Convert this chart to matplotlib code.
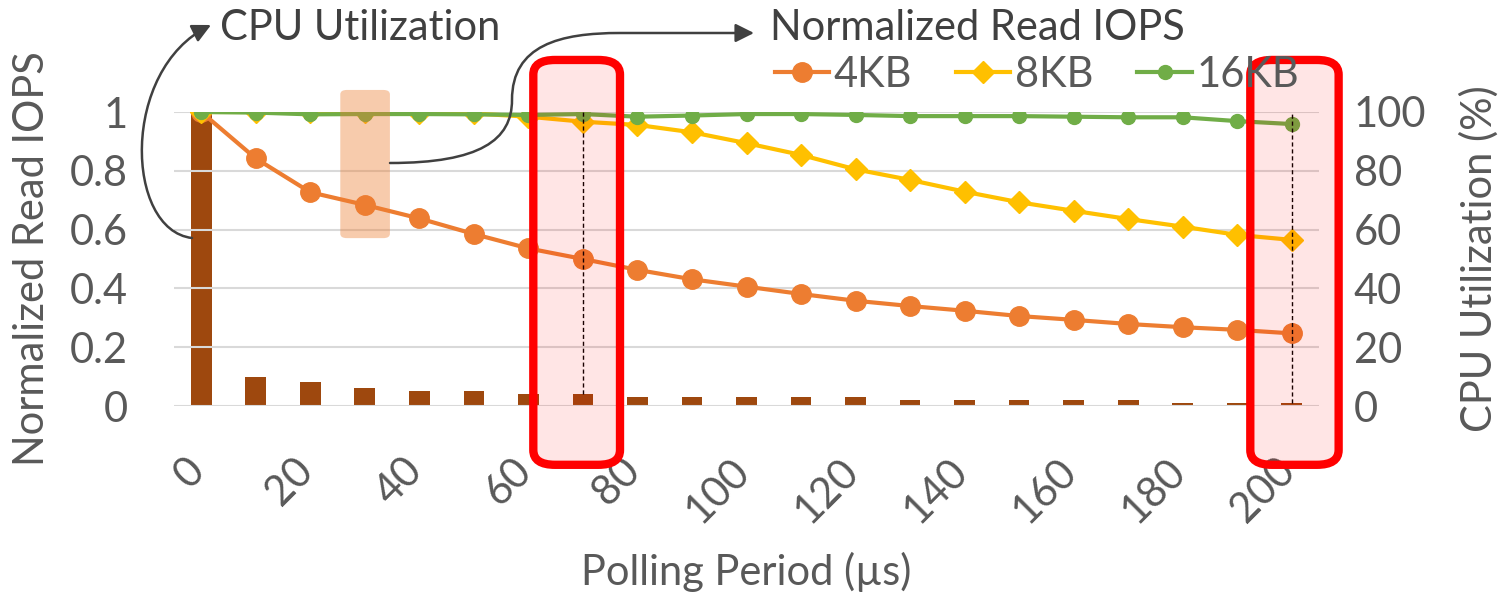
import numpy as np
import matplotlib.pyplot as plt
from matplotlib.patches import FancyBboxPatch, FancyArrowPatch
from matplotlib.path import Path
from matplotlib.transforms import blended_transform_factory, ScaledTranslation

plt.rcParams['font.family'] = ['Lato', 'DejaVu Sans']

period = [0, 10, 20, 30, 40, 50, 60, 70, 80, 90, 100,
          110, 120, 130, 140, 150, 160, 170, 180, 190, 200]
iops_4kb = [1.0, 0.842, 0.727, 0.684, 0.638, 0.585, 0.536, 0.500, 0.463, 0.431, 0.406,
            0.381, 0.358, 0.340, 0.324, 0.306, 0.293, 0.279, 0.268, 0.259, 0.247]
iops_8kb = [1.0, 1.0, 1.0, 1.0, 0.998, 0.995, 0.984, 0.967, 0.956, 0.931, 0.894,
            0.854, 0.805, 0.769, 0.729, 0.693, 0.664, 0.636, 0.610, 0.582, 0.565]
iops_16kb = [1.0, 0.998, 0.992, 0.993, 0.993, 0.992, 0.990, 0.993, 0.984, 0.988, 0.993,
             0.993, 0.990, 0.986, 0.986, 0.986, 0.984, 0.982, 0.982, 0.969, 0.959]
cpu_util = [100, 10, 8, 6, 5, 5, 4, 4, 3, 3, 3,
            3, 3, 2, 2, 2, 2, 2, 1, 1, 1]
xticks = [0, 20, 40, 60, 80, 100, 120, 140, 160, 180, 200]

TEXT = '#595959'
W, H = 1509, 602

fig = plt.figure(figsize=(W / 100, H / 100), dpi=100)
ax = fig.add_axes([174 / W, 1 - 406 / H, (1319 - 174) / W, (406 - 112) / H])
ax2 = ax.twinx()
ax.set_zorder(ax2.get_zorder() + 1)
ax.patch.set_visible(False)

# CPU bars on the secondary axis, behind the IOPS lines
ax2.bar(period, cpu_util, width=3.8, color='#9e480e', zorder=2)
ax2.set_ylim(0, 100)
ax2.set_yticks(range(0, 101, 20))

ax.plot(period, iops_4kb, color='#ed7d31', lw=3, marker='o', ms=14, label='4KB', zorder=3)
ax.plot(period, iops_8kb, color='#ffc000', lw=3, marker='D', ms=11, label='8KB', zorder=4)
ax.plot(period, iops_16kb, color='#70ad47', lw=3, marker='o', ms=10, label='16KB', zorder=5)

ax.set_xlim(-5, 205)
ax.set_ylim(0, 1)
ax.set_yticks([0, 0.2, 0.4, 0.6, 0.8, 1])
ax.set_yticklabels(['0', '0.2', '0.4', '0.6', '0.8', '1'])
ax.set_xticks(xticks)
ax.grid(axis='y', color='#d9d9d9', lw=1.5, zorder=0)
ax.set_axisbelow(True)

for a in (ax, ax2):
    for s in a.spines.values():
        s.set_visible(False)
    a.tick_params(length=0, labelsize=30, colors=TEXT)
ax.tick_params(axis='y', pad=33)
ax.tick_params(axis='x', pad=52)
ax2.tick_params(axis='y', pad=25)

# rotated period labels, nudged right so their upper end sits under the tick
ax.set_xticklabels([str(t) for t in xticks], rotation=45, ha='right',
                   va='bottom', rotation_mode='anchor')
shift = ScaledTranslation(0.1, 0, fig.dpi_scale_trans)
for lab in ax.get_xticklabels():
    lab.set_transform(lab.get_transform() + shift)

ax.set_xlabel('Polling Period (µs)', fontsize=30, color=TEXT, labelpad=16)
ax.set_ylabel('Normalized Read IOPS', fontsize=30, color=TEXT, labelpad=14)
ax2.set_ylabel('CPU Utilization (%)', fontsize=30, color=TEXT, labelpad=24)

# dashed guides at the highlighted periods
for p in (70, 200):
    i = period.index(p)
    ax.plot([p, p], [cpu_util[i] / 100, 1.0], color='black', lw=1, ls=(0, (3, 2)), zorder=7)

trans = blended_transform_factory(ax.transData, ax.transAxes)
for x0, x1 in ((60.9, 76.8), (192.4, 208.6)):
    ax.add_patch(FancyBboxPatch((x0, -0.2), x1 - x0, 1.377,
                                boxstyle='round,pad=0,rounding_size=4',
                                transform=trans, facecolor=(1, 0, 0, 0.1),
                                edgecolor='#ff0000', lw=6, clip_on=False, zorder=8,
                                mutation_aspect=0.0125))
ax.add_patch(FancyBboxPatch((25.5, 0.571), 9.1, 0.504,
                            boxstyle='round,pad=0,rounding_size=1.2',
                            transform=trans, facecolor='#ed7d31', alpha=0.4,
                            edgecolor='none', clip_on=False, zorder=6,
                            mutation_aspect=0.0125))

fig.legend(loc='center', bbox_to_anchor=(1037 / W, 1 - 75 / H), ncol=3, frameon=False,
           fontsize=30, handlelength=1.3, columnspacing=1.05, handletextpad=0.12,
           labelcolor=TEXT)


def px(x, y):
    return (x / W, 1 - y / H)


arrow_kw = dict(transform=fig.transFigure, arrowstyle='-|>', mutation_scale=28,
                color='#404040', lw=1.8)
cpu_path = Path([px(192, 238), px(125, 230), px(120, 70), px(211, 25)],
                [Path.MOVETO, Path.CURVE4, Path.CURVE4, Path.CURVE4])
fig.patches.append(FancyArrowPatch(path=cpu_path, **arrow_kw))
iops_path = Path([px(390, 163), px(480, 163), px(512, 140), px(512, 100),
                  px(512, 45), px(560, 33), px(620, 33), px(754, 33)],
                 [Path.MOVETO, Path.CURVE4, Path.CURVE4, Path.CURVE4,
                  Path.CURVE4, Path.CURVE4, Path.CURVE4, Path.LINETO])
fig.patches.append(FancyArrowPatch(path=iops_path, **arrow_kw))

fig.text(220 / W, 1 - 28 / H, 'CPU Utilization', fontsize=30, color='#404040',
         ha='left', va='center')
fig.text(770 / W, 1 - 28 / H, 'Normalized Read IOPS', fontsize=30, color='#404040',
         ha='left', va='center')

fig.savefig('out.png', dpi=100)
